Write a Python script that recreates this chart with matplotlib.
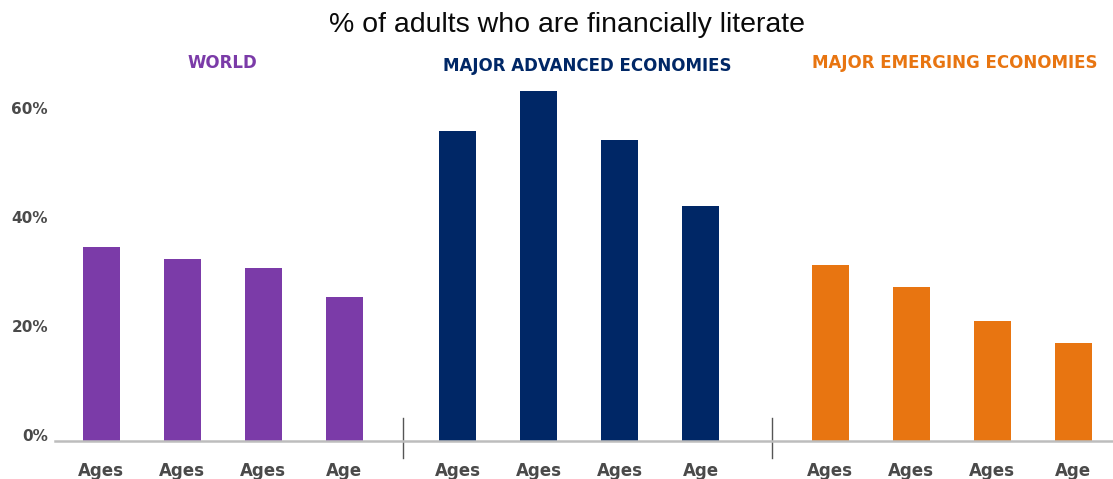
import matplotlib
matplotlib.use("Agg")
import matplotlib.pyplot as plt
import matplotlib.transforms as mtransforms

title = "% of adults who are financially literate"
groups = ["WORLD", "MAJOR ADVANCED ECONOMIES", "MAJOR EMERGING ECONOMIES"]
tick_labels = ["Ages", "Ages", "Ages", "Age"]
world = [35.6, 33.4, 31.7, 26.4]
advanced = [56.9, 64.2, 55.2, 43.1]
emerging = [32.3, 28.3, 22.0, 18.0]
y_ticks = [0, 20, 40, 60]
y_tick_labels = ["0%", "20%", "40%", "60%"]

colors = ["#7B3BA8", "#002766", "#E87511"]
series = [world, advanced, emerging]
offsets = [0.0, 4.4, 9.0]
separators = [3.72, 8.28]

W, H = 1113, 479
fig = plt.figure(figsize=(W / 100, H / 100), dpi=100)
ymax = 70
px_per_unit = 5.45
bottom_px = 441
top_px = bottom_px - ymax * px_per_unit
ax = fig.add_axes([55 / W, 1 - bottom_px / H, 1 - 55 / W, (bottom_px - top_px) / H])

for vals, off, col in zip(series, offsets, colors):
    xs = [off + i for i in range(len(vals))]
    ax.bar(xs, vals, width=0.46, color=col, edgecolor="none")

ax.set_ylim(0, ymax)
ax.set_xlim(-0.57, 12.49)

for s in ["top", "right", "left"]:
    ax.spines[s].set_visible(False)
ax.spines["bottom"].set_color("#BDBDBD")
ax.spines["bottom"].set_linewidth(1.8)

ax.set_yticks(y_ticks)
ax.set_yticklabels(y_tick_labels, fontsize=11, fontweight="bold", color="#4A4A4A",
                   family="DejaVu Sans")
ax.tick_params(axis="y", length=0, pad=5)
off_tr = mtransforms.ScaledTranslation(0, 6 / 100, fig.dpi_scale_trans)
for lab in ax.get_yticklabels():
    lab.set_transform(lab.get_transform() + off_tr)

xs_all = []
labs_all = []
for vals, off in zip(series, offsets):
    for i in range(len(vals)):
        xs_all.append(off + i)
        labs_all.append(tick_labels[i])
ax.set_xticks(xs_all)
ax.set_xticklabels(labs_all, fontsize=12, fontweight="bold", color="#4A4A4A",
                   family="DejaVu Sans")
ax.tick_params(axis="x", length=0, pad=15)

for sx in separators:
    ax.plot([sx, sx], [-17 / px_per_unit, 23 / px_per_unit], color="#555555",
            lw=1.0, clip_on=False)

group_x = [222, 587, 955]
group_y = [63, 66, 63]
for name, gx, gy, col in zip(groups, group_x, group_y, colors):
    fig.text(gx / W, 1 - gy / H, name, ha="center", va="center", fontsize=12,
             fontweight="bold", color=col, family="DejaVu Sans")

fig.text(567 / W, 1 - 25 / H, title, ha="center", va="center", fontsize=20.5,
         color="#0A0A0A", family="Liberation Sans")

fig.savefig("out.png", dpi=100)
